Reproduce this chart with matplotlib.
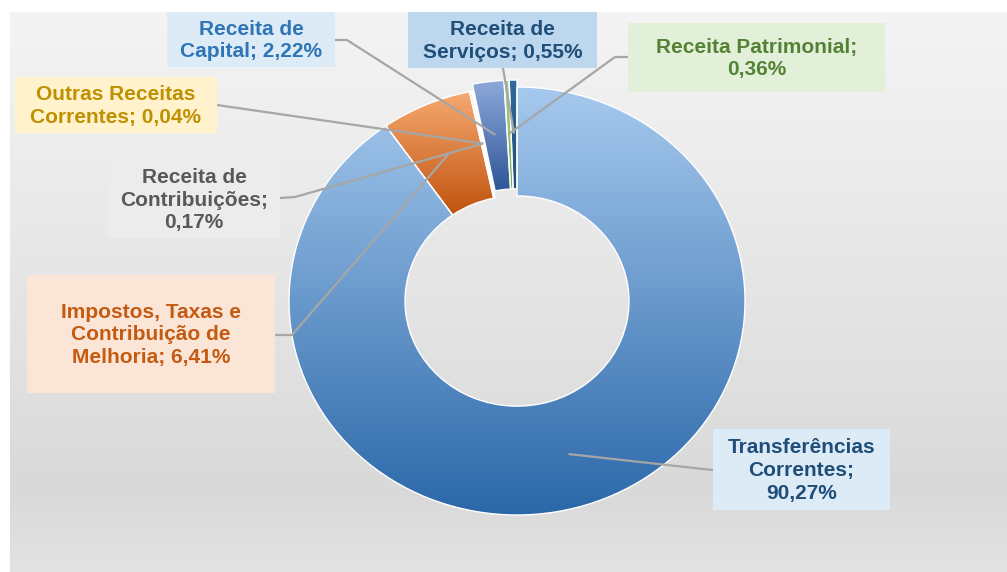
import numpy as np
import matplotlib.pyplot as plt
from matplotlib.colors import LinearSegmentedColormap
from matplotlib.patches import Rectangle

# clockwise from 12 o'clock
names = ['Transferências\nCorrentes;', 'Impostos, Taxas e\nContribuição de\nMelhoria;',
         'Receita de\nContribuições;', 'Outras Receitas\nCorrentes;', 'Receita de\nCapital;',
         'Receita Patrimonial;', 'Receita de\nServiços;']
values = [90.27, 6.41, 0.17, 0.04, 2.22, 0.36, 0.55]
pct_newline = [True, False, True, False, False, True, False]

slice_top = ['#a6c9ee', '#f6aa72', '#f0f0f0', '#ffc000', '#8eaadb', '#a9d18e', '#2f6aa0']
slice_bot = ['#2b68a9', '#c0530e', '#e0e0e0', '#ffc000', '#2f5597', '#70ad47', '#1f4e79']
text_col = ['#1f4e79', '#c55a11', '#595959', '#bf9000', '#2e75b6', '#548235', '#1f4e79']
box_col = ['#ddebf7', '#fbe5d6', '#ececec', '#fff2cc', '#ddebf7', '#e2f0d9', '#bdd7ee']

# label boxes in pixels: x0, y0, x1, y1
boxes = [(713, 429, 890, 510), (27, 275, 275, 393), (108, 160, 280, 238), (15, 77, 217, 133),
         (167, 12, 335, 67), (628, 23, 885, 92), (408, 12, 597, 68)]
# leader line start + elbow, pixels
starts = [[(713, 470), (703, 469)], [(275, 335), (292, 335)], [(280, 198), (295, 197)],
          [(217, 105)], [(335, 40), (347, 40)], [(628, 57), (615, 57)], [(503, 68)]]
pulled = [4, 5, 6]

W, H = 1007, 572
SY = 214 / 228  # image is a bit squashed vertically


def P(x, y):
    return x, (H - y) / SY


fig = plt.figure(figsize=(W / 100, H / 100), dpi=100)
ax = fig.add_axes([0, 0, 1, 1])

bg = LinearSegmentedColormap.from_list('bg', [(0, '#f4f4f4'), (0.5, '#e5e5e5'),
                                              (0.85, '#d9d9d9'), (1, '#e2e2e2')])
ax.imshow(np.linspace(0, 1, 256)[:, None], cmap=bg, extent=(10, W, P(0, H)[1], P(0, 12)[1]),
          aspect='auto', interpolation='bicubic', zorder=0)

R = 228
cx, cy = P(517, 301)
wedges, _ = ax.pie(values, radius=R, center=(cx, cy), startangle=90, counterclock=False,
                   colors=slice_bot, wedgeprops=dict(width=116, edgecolor='white', linewidth=1.0))

for i, w in enumerate(wedges):
    if i in pulled:
        w.set_center((cx, cy + 7 / SY))
    if slice_top[i] != slice_bot[i]:
        bb = w.get_path().get_extents()
        cm = LinearSegmentedColormap.from_list('g%d' % i, [slice_top[i], slice_bot[i]])
        im = ax.imshow(np.linspace(0, 1, 256)[:, None], cmap=cm, extent=(bb.x0, bb.x1, bb.y0, bb.y1),
                       aspect='auto', interpolation='bicubic', zorder=1.5)
        im.set_clip_path(w)
        w.set_facecolor('none')
    w.set_zorder(2)

for i, w in enumerate(wedges):
    th = np.deg2rad((w.theta1 + w.theta2) / 2)
    ax_, ay_ = w.center[0] + 0.75 * R * np.cos(th), w.center[1] + 0.75 * R * np.sin(th)
    pts = [P(*p) for p in starts[i]] + [(ax_, ay_)]
    ax.plot([p[0] for p in pts], [p[1] for p in pts], color='#a6a6a6', lw=1.6, zorder=2.5,
            solid_capstyle='butt')

    x0, y0, x1, y1 = boxes[i]
    ax.add_patch(Rectangle(P(x0, y1), x1 - x0, (y1 - y0) / SY, facecolor=box_col[i],
                           edgecolor='none', zorder=3))
    pct = ('%.2f' % values[i]).replace('.', ',') + '%'
    txt = names[i] + ('\n' if pct_newline[i] else ' ') + pct
    ax.text(*P((x0 + x1) / 2, (y0 + y1) / 2 + 1), txt, ha='center', va='center', ma='center',
            fontsize=15, fontweight='bold', family='Liberation Sans', color=text_col[i],
            linespacing=1.25, zorder=4)

ax.set_aspect('auto')
ax.set_xlim(0, W)
ax.set_ylim(0, H / SY)
ax.axis('off')
fig.savefig('out.png', dpi=100, facecolor='white')
